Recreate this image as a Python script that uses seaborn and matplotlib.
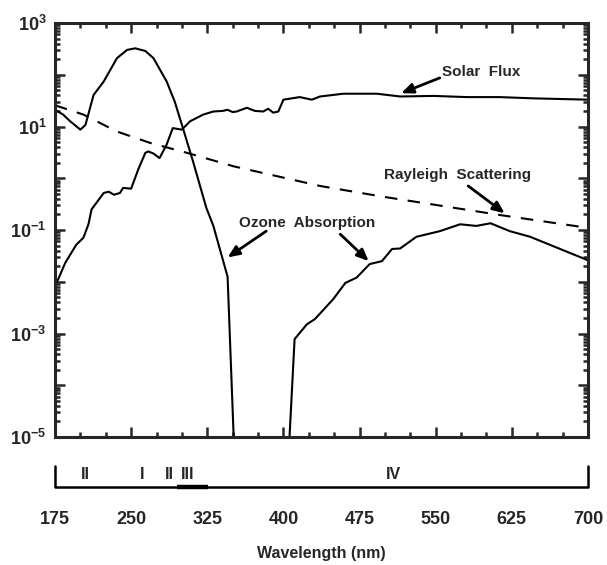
import numpy as np
import matplotlib
matplotlib.use("Agg")
import matplotlib.pyplot as plt
import matplotlib.ticker as mticker
import seaborn as sns

# values
ozone_wl_a = [175, 183, 190, 200, 205, 213, 223, 236, 246, 254, 264, 272, 285, 293, 301, 311, 324, 331, 345, 351]
ozone_a = [21, 17, 12.6, 8.7, 10.7, 40.7, 74, 209, 302, 324, 288, 209, 74, 30, 9.3, 2.1, 0.27, 0.12, 0.0125, 1e-5]
ozone_wl_b = [406, 411, 423, 431, 449, 461, 472, 485, 497, 507, 515, 531, 554, 574, 590, 604, 623, 643, 700]
ozone_b = [1e-5, 7.8e-4, 1.5e-3, 1.9e-3, 4.6e-3, 9.5e-3, 1.2e-2, 2.2e-2, 2.5e-2, 4.3e-2, 4.4e-2,
           7.4e-2, 9.5e-2, 0.129, 0.12, 0.135, 0.095, 0.074, 0.026]

solar_wl = [175, 178, 185, 191, 196, 203, 208, 211, 223, 228, 233, 239, 242, 250, 257, 264, 267, 272,
            278, 285, 291, 300, 308, 321, 331, 340, 345, 350, 354, 364, 372, 380, 385, 390, 395,
            400, 416, 428, 436, 459, 492, 515, 548, 581, 613, 646, 700]
solar = [0.0089, 0.011, 0.023, 0.036, 0.052, 0.071, 0.13, 0.25, 0.52, 0.55, 0.48, 0.52, 0.65, 0.63,
         1.48, 3.1, 3.3, 3.0, 2.45, 4.5, 9.3, 8.7, 12.6, 17, 19.5, 20, 21, 19, 19.5, 23, 20, 19.5,
         22, 18.5, 19.5, 33, 37, 33, 38, 43, 43, 38, 39, 37, 37, 35, 33]

rayleigh_wl = [175, 203, 236, 269, 305, 351, 436, 495, 617, 700]
rayleigh = [25.7, 17, 8.0, 4.8, 3.1, 1.7, 0.71, 0.45, 0.19, 0.11]

xticks = [175, 250, 325, 400, 475, 550, 625, 700]
band_names = ["II", "I", "II", "III", "IV"]
band_pos = [205, 261, 288, 306, 508]

sns.set_style("ticks")
plt.rcParams['font.family'] = ['Liberation Sans', 'DejaVu Sans']
plt.rcParams['font.weight'] = 'bold'
plt.rcParams['mathtext.fontset'] = 'custom'
plt.rcParams['mathtext.bf'] = 'Liberation Sans:bold'
plt.rcParams['mathtext.rm'] = 'Liberation Sans:bold'
plt.rcParams['mathtext.default'] = 'bf'

fig = plt.figure(figsize=(6.07, 5.65), dpi=100)
ax = fig.add_axes([0.0906, 0.2265, 0.8781, 0.7328])

lw = 1.5
sns.lineplot(x=ozone_wl_a, y=ozone_a, ax=ax, color='black', lw=lw, estimator=None)
sns.lineplot(x=ozone_wl_b, y=ozone_b, ax=ax, color='black', lw=lw, estimator=None)
sns.lineplot(x=solar_wl, y=solar, ax=ax, color='black', lw=lw, estimator=None)
sns.lineplot(x=rayleigh_wl, y=rayleigh, ax=ax, color='black', lw=lw, estimator=None)
ax.lines[-1].set_dashes((6, 5))

ax.set_yscale('log')
ax.set_xlim(175, 700)
ax.set_ylim(1e-5, 1e3)

ax.xaxis.set_major_locator(mticker.FixedLocator(xticks))
ax.xaxis.set_minor_locator(mticker.FixedLocator(np.arange(175, 701, 25)))
decades = [10.0 ** k for k in range(-5, 4)]
ax.set_yticks(decades)
ax.set_yticklabels(["$10^{%d}$" % k if k % 2 else "" for k in range(-5, 4)])
ax.yaxis.set_minor_locator(mticker.LogLocator(base=10, subs=np.arange(2, 10), numticks=50))
ax.yaxis.set_minor_formatter(mticker.NullFormatter())
ax.tick_params(which='both', direction='in', top=True, right=True, labelbottom=False, width=1.8)
ax.tick_params(which='major', length=7)
ax.tick_params(which='minor', length=3.5)
ax.tick_params(axis='y', labelsize=13, pad=6)
for s in ax.spines.values():
    s.set_linewidth(2.2)
ax.set_xlabel("")
ax.set_ylabel("")

# annotations
tfs = 11
ax.text(556, 115, "Solar  Flux", fontsize=tfs, fontweight='bold', ha='left', va='center')
ax.annotate("", xy=(516, 44), xytext=(554, 87),
            arrowprops=dict(arrowstyle='-|>,head_length=0.7,head_width=0.3', lw=2, color='black',
                            shrinkA=0, shrinkB=0))
ax.text(571, 1.17, "Rayleigh  Scattering", fontsize=tfs, fontweight='bold', ha='center', va='center')
ax.annotate("", xy=(618, 0.21), xytext=(582, 0.71),
            arrowprops=dict(arrowstyle='-|>,head_length=0.7,head_width=0.3', lw=2, color='black',
                            shrinkA=0, shrinkB=0))
ax.text(423, 0.138, "Ozone  Absorption", fontsize=tfs, fontweight='bold', ha='center', va='center')
ax.annotate("", xy=(345, 0.0295), xytext=(383, 0.095),
            arrowprops=dict(arrowstyle='-|>,head_length=0.7,head_width=0.3', lw=2, color='black',
                            shrinkA=0, shrinkB=0))
ax.annotate("", xy=(484, 0.025), xytext=(456, 0.083),
            arrowprops=dict(arrowstyle='-|>,head_length=0.7,head_width=0.3', lw=2, color='black',
                            shrinkA=0, shrinkB=0))

# band strip under the plot
ax2 = fig.add_axes([0.0906, 0.138, 0.8781, 0.04])
ax2.set_xlim(175, 700)
ax2.set_ylim(0, 1)
for s in ax2.spines.values():
    s.set_visible(False)
ax2.plot([175, 175, 700, 700], [0.95, 0, 0, 0.95], color='black', lw=1.8, clip_on=False)
ax2.plot([295, 326], [0, 0], color='black', lw=3.2, clip_on=False, solid_capstyle='butt')
for name, p in zip(band_names, band_pos):
    ax2.text(p, 0.55, name, fontsize=11.5, fontweight='bold', ha='center', va='center')
ax2.set_xticks(xticks)
ax2.set_xticklabels([str(t) for t in xticks])
ax2.set_yticks([])
ax2.tick_params(axis='x', length=0, pad=17, labelsize=13)
ax2.set_xlabel("Wavelength (nm)", fontsize=11.5, fontweight='bold', labelpad=13)

fig.savefig("out.png", dpi=100)
